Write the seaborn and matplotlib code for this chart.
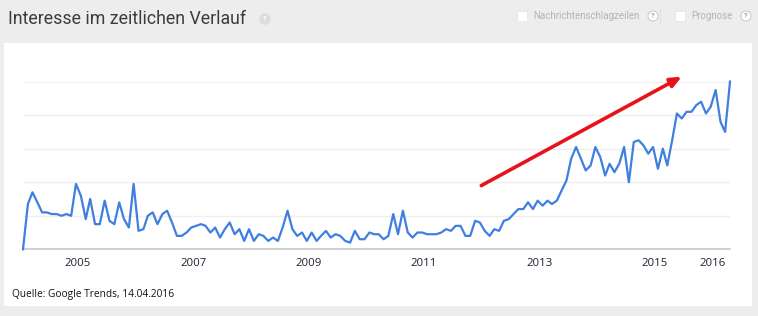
import numpy as np
import pandas as pd
import matplotlib
matplotlib.use("Agg")
import matplotlib.pyplot as plt
import matplotlib.transforms as mtransforms
from matplotlib.patches import Rectangle
import seaborn as sns

# ---- data (monthly Google Trends index, Jan 2004 - Apr 2016) ----
start_month = "2004-01-01"
interest = [
    0, 27, 34, 28, 22, 22, 21, 21, 20, 21, 20, 39,
    32, 18, 30, 15, 15, 29, 17, 15, 28, 18, 13, 39,
    11, 12, 20, 22, 15, 21, 23, 16, 8, 8, 10, 13,
    14, 15, 14, 10, 13, 7, 12, 16, 9, 12, 5, 12,
    5, 9, 8, 5, 7, 5, 13, 23, 12, 8, 10, 5,
    10, 5, 8, 11, 7, 9, 8, 5, 4, 11, 6, 6,
    10, 9, 9, 6, 8, 21, 9, 23, 10, 7, 10, 10,
    9, 9, 9, 10, 12, 11, 14, 14, 8, 8, 17, 16,
    11, 8, 12, 11, 17, 18, 21, 24, 24, 28, 24, 29,
    26, 29, 27, 29, 35, 41, 54, 61, 54, 47, 50, 61,
    55, 44, 51, 46, 51, 61, 40, 64, 65, 62, 57, 61,
    48, 60, 50, 65, 81, 78, 82, 82, 86, 88, 81, 85,
    95, 76, 70, 100,
]
tick_years = ["2005", "2007", "2009", "2011", "2013", "2015", "2016"]
grid_values = [20, 40, 60, 80, 100]
arrow_start = ("2011-12-10", 38)
arrow_end = ("2015-06-01", 103)

title = "Interesse im zeitlichen Verlauf"
source = "Quelle: Google Trends, 14.04.2016"
opt1 = "Nachrichtenschlagzeilen"
opt2 = "Prognose"

dates = pd.date_range(start_month, periods=len(interest), freq="MS")
df = pd.DataFrame({"Monat": dates, "Interesse": interest})

# ---- figure ----
W, H = 758, 316
fig = plt.figure(figsize=(W / 100, H / 100), dpi=100)
fig.patch.set_facecolor("#ededed")

def fx(px):
    return px / W

def fy(py):
    return 1 - py / H

# white panel (behind the axes)
fig.patches.append(Rectangle((fx(4), fy(306)), fx(752) - fx(4), fy(43) - fy(306),
                             transform=fig.transFigure, facecolor="white",
                             edgecolor="none", zorder=-5))

# header
fig.text(fx(8), fy(19), title, fontsize=12.8, family="Roboto", color="#3c3c3c",
         va="center", ha="left")
fig.text(fx(265), fy(19), "?", fontsize=5, family="Roboto", color="white",
         va="center", ha="center", fontweight="bold",
         bbox=dict(boxstyle="circle,pad=0.25", fc="#dcdcdc", ec="none"))

for px0 in (517, 675):
    fig.patches.append(Rectangle((fx(px0), fy(21)), fx(10), fy(0) - fy(10),
                                 transform=fig.transFigure, facecolor="white",
                                 edgecolor="#e6e6e6", lw=0.6))
fig.text(fx(533), fy(16), opt1, fontsize=7, family="Roboto", color="#b4b4b4",
         va="center", ha="left")
fig.text(fx(691), fy(16), opt2, fontsize=7, family="Roboto", color="#b4b4b4",
         va="center", ha="left")
for px0 in (653, 746):
    fig.text(fx(px0), fy(16), "?", fontsize=5.5, family="Roboto", color="#a8a8a8",
             va="center", ha="center", fontweight="bold",
             bbox=dict(boxstyle="circle,pad=0.2", fc="white", ec="#c8c8c8", lw=0.7))
fig.lines.append(plt.Line2D([fx(660), fx(660)], [fy(9), fy(24)],
                            transform=fig.transFigure, color="#dadada", lw=0.6))

# plot axes
ax = fig.add_axes([fx(23), fy(249.3), fx(730) - fx(23), fy(81.6) - fy(249.3)])
ax.set_zorder(2)
ax.set_facecolor("none")
sns.lineplot(data=df, x="Monat", y="Interesse", ax=ax, color="#3f7fe0",
             linewidth=1.6, clip_on=False, zorder=3)

ax.set_xlim(dates[0], dates[-1])
ax.set_ylim(0, 100)
for g in grid_values:
    ax.axhline(g, color="#efefef", lw=1.0, zorder=1)
ax.axhline(0, color="#c8c8c8", lw=1.2, zorder=2, clip_on=False)

ax.set_yticks([])
ax.set_xticks(pd.to_datetime([y + "-01-01" for y in tick_years]))
ax.set_xticklabels(tick_years, family="Open Sans", fontsize=8.2, color="#1e2230")
ax.tick_params(axis="x", length=0, pad=6)
shift = mtransforms.ScaledTranslation(-3 / 100, 0, fig.dpi_scale_trans)
for lbl in ax.get_xticklabels():
    lbl.set_transform(lbl.get_transform() + shift)
ax.set_xlabel("")
ax.set_ylabel("")
for s in ax.spines.values():
    s.set_visible(False)

# red trend arrow
ax.annotate("", xy=(pd.Timestamp(arrow_end[0]), arrow_end[1]),
            xytext=(pd.Timestamp(arrow_start[0]), arrow_start[1]),
            arrowprops=dict(arrowstyle="-|>,head_length=0.65,head_width=0.28",
                            color="#e8131a", lw=2.6, shrinkA=0, shrinkB=0),
            annotation_clip=False, zorder=5)

fig.text(fx(12), fy(294), source, fontsize=7.3, family="Open Sans", color="#111111",
         va="center", ha="left")

fig.savefig("out.png", dpi=100, facecolor=fig.get_facecolor())
